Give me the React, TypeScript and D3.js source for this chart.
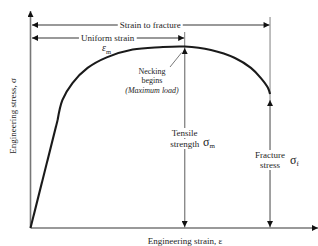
import React, { useEffect, useRef } from "react";
import * as d3 from "d3";

// Engineering stress-strain curve (arbitrary units)
const strain = [0, 9.5, 11.2, 14.7, 20, 26.7, 35.8, 45.3, 54, 63.2, 71.6, 77.2, 80.7, 83.2, 83.9];
const stress = [0, 50, 59.3, 67.1, 74.1, 79.0, 82.6, 83.7, 84.0, 82.4, 78.7, 74.1, 69.4, 64.8, 62];
const uniformStrain = 54;
const fractureStrain = 83.9;
const tensileStrength = 84.0;
const fractureStress = 62;

const W = 318;
const H = 246;

export default function App() {
  const ref = useRef<SVGSVGElement>(null);

  useEffect(() => {
    const svg = d3.select(ref.current);
    svg.selectAll("*").remove();

    const x = d3.scaleLinear().domain([0, 100]).range([30.5, 316]);
    const y = d3.scaleLinear().domain([0, 100]).range([228, 12]);

    const font = "'Liberation Serif', 'DejaVu Serif', serif";
    const defs = svg.append("defs");
    defs
      .append("marker")
      .attr("id", "arr")
      .attr("viewBox", "0 0 10 10")
      .attr("refX", 10)
      .attr("refY", 5)
      .attr("markerUnits", "userSpaceOnUse")
      .attr("markerWidth", 7)
      .attr("markerHeight", 6)
      .attr("orient", "auto-start-reverse")
      .append("path")
      .attr("d", "M0,0 L10,5 L0,10 Z")
      .attr("fill", "#111");

    const g = svg.append("g");
    const x0 = x(0);
    const y0 = y(0);

    const gray = "#8a8a8a";
    g.append("line")
      .attr("x1", x(uniformStrain)).attr("x2", x(uniformStrain))
      .attr("y1", 32).attr("y2", y0)
      .attr("stroke", gray).attr("stroke-width", 1.1);
    g.append("line")
      .attr("x1", x(fractureStrain)).attr("x2", x(fractureStrain))
      .attr("y1", 17).attr("y2", y0)
      .attr("stroke", gray).attr("stroke-width", 1.1);

    const vArrow = (xv: number, yTop: number) =>
      g.append("line")
        .attr("x1", xv).attr("x2", xv)
        .attr("y1", yTop).attr("y2", y0 - 1)
        .attr("stroke", gray).attr("stroke-width", 1.1)
        .attr("marker-start", "url(#arr)")
        .attr("marker-end", "url(#arr)");
    vArrow(x(uniformStrain), y(tensileStrength) + 1.5);
    vArrow(x(fractureStrain), y(fractureStress) + 6);

    const hArrow = (yv: number, x2: number) =>
      g.append("line")
        .attr("x1", x0 + 1.5).attr("x2", x2)
        .attr("y1", yv).attr("y2", yv)
        .attr("stroke", "#777").attr("stroke-width", 1.6)
        .attr("marker-start", "url(#arr)")
        .attr("marker-end", "url(#arr)");
    hArrow(25, x(fractureStrain) - 0.5);
    hArrow(38, x(uniformStrain) - 0.5);

    g.append("line")
      .attr("x1", x0).attr("x2", x0).attr("y1", y0).attr("y2", 11)
      .attr("stroke", "#777").attr("stroke-width", 1.6)
      .attr("marker-end", "url(#arr)");
    g.append("line")
      .attr("x1", x0).attr("x2", 318).attr("y1", y0).attr("y2", y0)
      .attr("stroke", "#777").attr("stroke-width", 1.6)
      .attr("marker-end", "url(#arr)");

    const pts = strain.map((s, i) => [s, stress[i]] as [number, number]);
    const elastic = pts.slice(0, 2);
    const plastic = pts.slice(1);
    g.append("path")
      .attr("d", d3.line().x((d) => x(d[0])).y((d) => y(d[1]))(elastic) as string)
      .attr("fill", "none").attr("stroke", "#1a1a1a").attr("stroke-width", 2.1);
    g.append("path")
      .attr("d", d3.line().x((d) => x(d[0])).y((d) => y(d[1])).curve(d3.curveCatmullRom.alpha(0.5))(plastic) as string)
      .attr("fill", "none").attr("stroke", "#1a1a1a").attr("stroke-width", 2.1);

    g.append("line")
      .attr("x1", 170).attr("y1", 67).attr("x2", x(uniformStrain) - 3).attr("y2", y(tensileStrength) + 6)
      .attr("stroke", "#555").attr("stroke-width", 0.8);

    const label = (
      txt: string,
      tx: number,
      ty: number,
      opts: { size?: number; anchor?: string; italic?: boolean; bg?: boolean; rotate?: boolean } = {}
    ) => {
      const t = svg
        .append("text")
        .attr("x", tx)
        .attr("y", ty)
        .attr("font-family", font)
        .attr("font-size", opts.size ?? 9)
        .attr("font-style", opts.italic ? "italic" : "normal")
        .attr("text-anchor", opts.anchor ?? "middle")
        .attr("fill", "#1e1e1e")
        .text(txt);
      if (opts.rotate) t.attr("transform", `rotate(-90 ${tx} ${ty})`);
      if (opts.bg) {
        const bb = (t.node() as SVGTextElement).getBBox();
        svg
          .insert("rect", "text")
          .attr("x", bb.x - 2)
          .attr("y", bb.y)
          .attr("width", bb.width + 4)
          .attr("height", bb.height)
          .attr("fill", "#fff");
      }
      return t;
    };

    label("Strain to fracture", (x0 + x(fractureStrain)) / 2, 28, { bg: true });
    label("Uniform strain", (x0 + x(uniformStrain)) / 2, 41, { bg: true });

    const em = svg.append("text").attr("x", 102).attr("y", 51)
      .attr("font-family", font).attr("font-size", 10).attr("font-style", "italic").attr("fill", "#1e1e1e");
    em.append("tspan").text("ε");
    em.append("tspan").attr("font-size", 6.5).attr("dy", 2.5).attr("font-style", "normal").text("m");

    label("Necking", 152, 74, { size: 8 });
    label("begins", 152, 83, { size: 8 });
    label("(Maximum load)", 152, 93, { size: 8, italic: true });

    label("Tensile", x(uniformStrain), 136, { bg: true });
    label("strength", x(uniformStrain), 147, { bg: true });
    const sm = svg.append("text").attr("x", 203).attr("y", 146)
      .attr("font-family", font).attr("font-size", 12).attr("fill", "#1e1e1e");
    sm.append("tspan").text("σ");
    sm.append("tspan").attr("font-size", 7).attr("dy", 2).text("m");

    label("Fracture", x(fractureStrain), 158, { bg: true });
    label("stress", x(fractureStrain), 168, { bg: true });
    const sf = svg.append("text").attr("x", 290).attr("y", 164)
      .attr("font-family", font).attr("font-size", 12).attr("fill", "#1e1e1e");
    sf.append("tspan").text("σ");
    sf.append("tspan").attr("font-size", 7).attr("dy", 2).text("f");

    label("Engineering stress, σ", 16, 116, { rotate: true });
    label("Engineering strain, ε", 185, 244);
  }, []);

  return (
    <svg
      ref={ref}
      width={W}
      height={H}
      style={{ position: "absolute", left: 0, top: 0, background: "#fff" }}
    />
  );
}
